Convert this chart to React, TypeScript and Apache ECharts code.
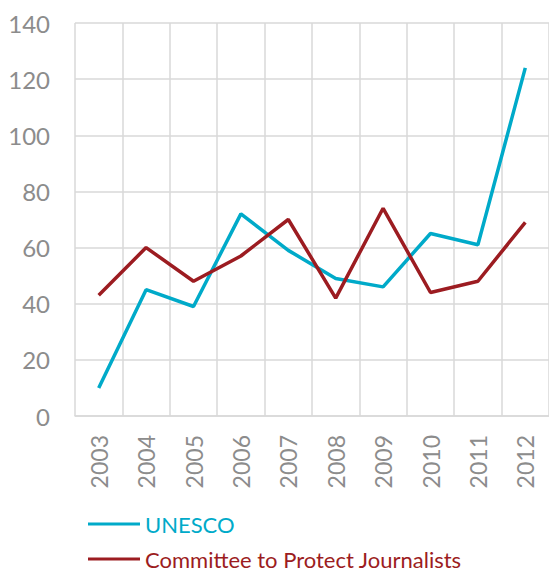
import React, { useEffect, useRef } from "react";
import * as echarts from "echarts";

const years = ["2003", "2004", "2005", "2006", "2007", "2008", "2009", "2010", "2011", "2012"];
const unesco = [10, 45, 39, 72, 59, 49, 46, 65, 61, 124];
const cpj = [43, 60, 48, 57, 70, 42, 74, 44, 48, 69];
const seriesNames = ["UNESCO", "Committee to Protect Journalists"];
const colors = ["#00aac9", "#9c1c21"];

export default function App() {
  const ref = useRef<HTMLDivElement>(null);
  useEffect(() => {
    if (!ref.current) return;
    const chart = echarts.init(ref.current, undefined, { renderer: "svg" });
    const font = "Lato";
    chart.setOption({
      animation: false,
      grid: { left: 75, top: 23, width: 480, bottom: 156, containLabel: false },
      xAxis: {
        type: "category",
        data: years,
        boundaryGap: true,
        axisLine: { show: true, lineStyle: { color: "#d9d9d9", width: 1.5 } },
        axisTick: { show: false },
        splitLine: { show: true, lineStyle: { color: "#d9d9d9", width: 1.5 } },
        axisLabel: { rotate: 90, margin: 19, color: "#8c8c8c", fontSize: 23, fontFamily: font },
      },
      yAxis: {
        type: "value",
        min: 0,
        max: 140,
        interval: 20,
        axisLine: { show: false },
        axisTick: { show: false },
        splitLine: { show: true, lineStyle: { color: "#d9d9d9", width: 1.5 } },
        axisLabel: { margin: 25, color: "#8c8c8c", fontSize: 24, fontFamily: font },
      },
      legend: {
        orient: "vertical",
        left: 88,
        top: 513,
        height: 60,
        padding: 0,
        itemWidth: 52,
        itemHeight: 3,
        itemGap: 13,
        icon: "rect",
        textStyle: { fontSize: 22, fontFamily: font, lineHeight: 22 },
        data: seriesNames.map((n, i) => ({ name: n, textStyle: { color: colors[i] } })),
      },
      series: [
        {
          name: seriesNames[0],
          type: "line",
          data: unesco,
          symbol: "none",
          color: colors[0],
          lineStyle: { width: 3.5, color: colors[0] },
        },
        {
          name: seriesNames[1],
          type: "line",
          data: cpj,
          symbol: "none",
          color: colors[1],
          lineStyle: { width: 3.5, color: colors[1] },
        },
      ],
    });
    return () => chart.dispose();
  }, []);
  return <div ref={ref} style={{ width: 549, height: 572, position: "absolute", left: 0, top: 0 }} />;
}
